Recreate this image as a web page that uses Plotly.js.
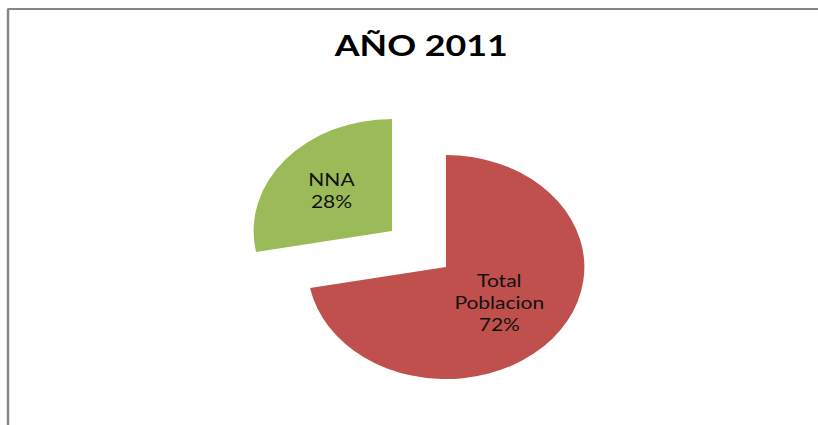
<!DOCTYPE html>
<html>
<head>
<meta charset="utf-8">
<script src="https://cdn.plot.ly/plotly-3.0.1.min.js"></script>
<style>
  html, body { margin: 0; padding: 0; background: #fff; overflow: hidden; }
  #chart { width: 662px; height: 425px; transform: scaleX(1.2357); transform-origin: 0 0; }
</style>
</head>
<body>
<div id="chart"></div>
<script>
// Data
const chartTitle = 'AÑO 2011';
const categories = ['Total Poblacion', 'NNA'];
const categoryText = ['Total<br>Poblacion', 'NNA'];
const values = [72, 28];
const sliceColors = ['#C0504D', '#9BBB59'];

const trace = {
  type: 'pie',
  labels: categories,
  values: values,
  text: categoryText,
  texttemplate: '%{text}<br>%{percent:.0%}',
  textposition: 'inside',
  insidetextorientation: 'horizontal',
  insidetextfont: { family: 'Lato, Liberation Sans, Arial, sans-serif', size: 17, color: '#111111' },
  marker: { colors: sliceColors, line: { width: 0 } },
  sort: false,
  direction: 'clockwise',
  rotation: 0,
  pull: [0.253, 0.253],
  showlegend: false,
  hoverinfo: 'none',
  domain: { x: [0.3002, 0.7242], y: [0.0839, 0.7443] }
};

const layout = {
  width: 662,
  height: 425,
  margin: { l: 0, r: 0, t: 0, b: 0 },
  paper_bgcolor: '#ffffff',
  title: {
    text: '<b>' + chartTitle + '</b>',
    font: { family: 'Lato, Liberation Sans, Arial, sans-serif', size: 29, color: '#000000' },
    x: 0.515,
    xanchor: 'center',
    xref: 'paper',
    y: 0.892,
    yref: 'container',
    yanchor: 'middle'
  },
  shapes: [
    { type: 'line', xref: 'paper', yref: 'paper', x0: 0.0098, x1: 0.0098, y0: 0, y1: 0.979,
      line: { color: '#868686', width: 2 } },
    { type: 'line', xref: 'paper', yref: 'paper', x0: 0.0090, x1: 1, y0: 0.979, y1: 0.979,
      line: { color: '#868686', width: 2 } }
  ]
};

Plotly.newPlot('chart', [trace], layout, { displayModeBar: false, staticPlot: true });
</script>
</body>
</html>
